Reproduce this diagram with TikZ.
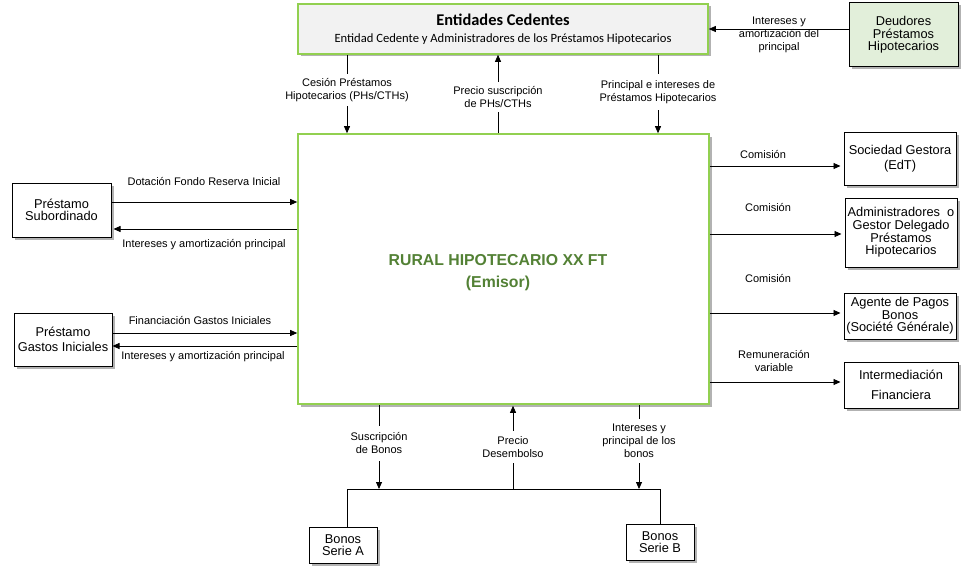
\documentclass[tikz,border=0pt]{standalone}
\usepackage{fontspec}
\setmainfont{Liberation Sans}
\newfontfamily\calib{Carlito}
\usetikzlibrary{arrows.meta,shadows}
\definecolor{gborder}{HTML}{92D050}
\definecolor{gtext}{HTML}{538135}
\definecolor{entfill}{HTML}{F2F2F2}
\definecolor{deufill}{HTML}{E2EFDA}
\begin{document}
\begin{tikzpicture}[x=1pt,y=-1pt,
  shad/.style={drop shadow={shadow xshift=2.5pt,shadow yshift=-2.5pt,fill=black,opacity=0.3}},
  bx/.style={draw=black,line width=1pt,fill=white,shad,align=center,inner sep=1pt,
    font=\fontsize{12.8}{12.6}\selectfont},
  gbx/.style={draw=gborder,line width=1.6pt,shad,align=center,inner sep=1pt},
  lbl/.style={align=center,font=\fontsize{11}{12.8}\selectfont,inner sep=1pt},
  cut/.style={lbl,fill=white,inner xsep=1pt},
  arr/.style={line width=0.8pt,-{Triangle[length=7pt,width=6pt]}},
  ln/.style={line width=0.8pt}]
\useasboundingbox (0,0) rectangle (973,567);

% boxes
\node[gbx,fill=entfill,minimum width=410,minimum height=50] (ent) at (503,29)
  {{\calib\bfseries\fontsize{16.4}{18}\selectfont Entidades Cedentes}\\[5pt]
   {\calib\fontsize{12.6}{13}\selectfont Entidad Cedente y Administradores de los Préstamos Hipotecarios}};
\node[bx,fill=deufill,minimum width=109,minimum height=64] (deu) at (903.5,35)
  {Deudores\\Préstamos\\Hipotecarios};
\node[gbx,fill=white,minimum width=411,minimum height=270] (main) at (503.5,269) {};
\node[align=center,text=gtext,font=\bfseries\fontsize{15.8}{22}\selectfont] (mainlbl) at (498,273)
  {RURAL HIPOTECARIO XX FT\\(Emisor)};

\node[bx,minimum width=112,minimum height=53] (soc) at (900,158.5) {Sociedad Gestora\\[3pt](EdT)};
\node[bx,minimum width=112,minimum height=69] (adm) at (901,232.5)
  {Administradores\ \ o\\Gestor Delegado\\Préstamos\\Hipotecarios};
\node[bx,minimum width=112,minimum height=46] (age) at (900,316)
  {Agente de Pagos\\Bonos\\(Société Générale)};
\node[bx,minimum width=114,minimum height=46] (int) at (901,385)
  {Intermediación\\[7pt]Financiera};

\node[bx,minimum width=99,minimum height=54] (sub) at (61.5,210) {Préstamo\\Subordinado};
\node[bx,minimum width=98,minimum height=53] (gas) at (63,339.5) {Préstamo\\[3pt]Gastos Iniciales};

\node[bx,minimum width=68,minimum height=36] (bA) at (343,545) {Bonos\\Serie A};
\node[bx,minimum width=68,minimum height=36] (bB) at (660,542) {Bonos\\Serie B};

% helper coordinates
\coordinate (y29) at (0,29);
\coordinate (x347) at (347,0);
\coordinate (x498) at (498,0);
\coordinate (x658) at (658,0);
\coordinate (y166) at (0,166);
\coordinate (y234) at (0,234);
\coordinate (y313) at (0,313);
\coordinate (y382) at (0,382);
\coordinate (y202) at (0,202);
\coordinate (y229) at (0,229);
\coordinate (y333) at (0,333);
\coordinate (y346) at (0,346);
\coordinate (x379) at (379,0);
\coordinate (x513) at (513,0);
\coordinate (x639) at (639,0);
\coordinate (busL) at (347,489);
\coordinate (busR) at (660,489);

% top connectors
\draw[arr] (deu.west |- y29) -- (ent.east |- y29);
\draw[arr] (ent.south -| x347) -- (main.north -| x347);
\draw[arr] (main.north -| x498) -- (ent.south -| x498);
\draw[arr] (ent.south -| x658) -- (main.north -| x658);

% right connectors
\draw[arr] (main.east |- y166) -- ([xshift=-3pt]soc.west |- y166);
\draw[arr] (main.east |- y234) -- ([xshift=-3pt]adm.west |- y234);
\draw[arr] (main.east |- y313) -- ([xshift=-3pt]age.west |- y313);
\draw[arr] (main.east |- y382) -- ([xshift=-3pt]int.west |- y382);

% left connectors
\draw[arr] (sub.east |- y202) -- (main.west |- y202);
\draw[arr] (main.west |- y229) -- ([xshift=2pt]sub.east |- y229);
\draw[arr] (gas.east |- y333) -- (main.west |- y333);
\draw[arr] (main.west |- y346) -- (gas.east |- y346);

% bottom
\draw[ln] (bA.north -| busL) -- (busL) -- (busR) -- (bB.north -| busR);
\draw[arr] (main.south -| x379) -- (busL -| x379);
\draw[arr] (busL -| x513) -- ([yshift=-1pt]main.south -| x513);
\draw[arr] (main.south -| x639) -- (busL -| x639);

% labels
\node[lbl] (l1) at (779,35) {Intereses y\\amortización del\\principal};
\node[cut,inner ysep=4pt] (l2) at (347,90) {Cesión Préstamos\\Hipotecarios (PHs/CTHs)};
\node[cut,inner ysep=4pt] (l3) at (498,97) {Precio suscripción\\de PHs/CTHs};
\node[cut,inner ysep=6pt] (l4) at (658,92) {Principal e intereses de\\Préstamos Hipotecarios};

\node[lbl] (l5) at (763,155) {Comisión};
\node[lbl] (l6) at (768,208) {Comisión};
\node[lbl] (l7) at (768,279) {Comisión};
\node[lbl] (l8) at (774,361) {Remuneración\\variable};

\node[lbl] (l9) at (204,182) {Dotación Fondo Reserva Inicial};
\node[lbl] (l10) at (204,245) {Intereses y amortización principal};
\node[lbl] (l11) at (200,321) {Financiación Gastos Iniciales};
\node[lbl] (l12) at (203,357) {Intereses y amortización principal};

\node[cut,inner ysep=7pt] (l13) at (379,443) {Suscripción\\de Bonos};
\node[cut,inner ysep=6pt] (l14) at (513,447) {Precio\\Desembolso};
\node[cut,inner ysep=5pt] (l15) at (639,441) {Intereses y\\principal de los\\bonos};
\end{tikzpicture}
\end{document}
